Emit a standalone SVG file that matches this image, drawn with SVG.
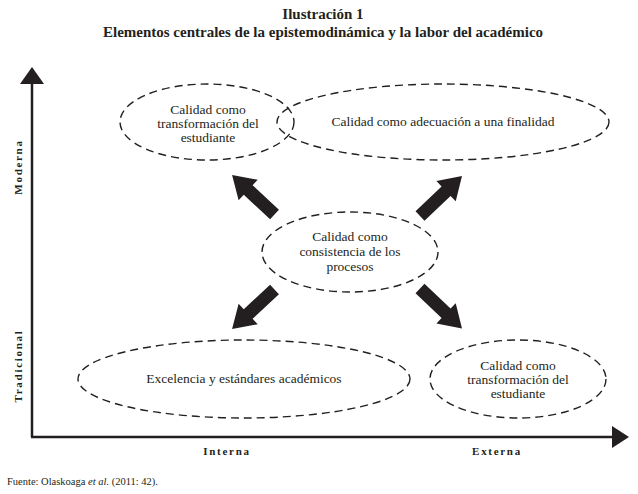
<svg xmlns="http://www.w3.org/2000/svg" xmlns:xlink="http://www.w3.org/1999/xlink" width="638" height="494" viewBox="0 0 638 494">
<style>
.title{font-family:"Liberation Serif",serif;font-weight:bold;font-size:15px;fill:#231f20;text-anchor:middle}
.node{fill:none;stroke:#231f20;stroke-width:1.4;stroke-dasharray:8 5}
.lbl{font-family:"Liberation Serif",serif;font-size:13.5px;fill:#231f20;text-anchor:middle}
.axl{font-family:"Liberation Serif",serif;font-weight:bold;font-size:11px;letter-spacing:1.7px;fill:#231f20;text-anchor:middle}
.axis{stroke:#231f20;stroke-width:2.5;fill:none}
.ah{fill:#231f20}
.src{font-family:"Liberation Serif",serif;font-size:10.5px;fill:#231f20}
</style>
<defs>
<path id="blk" d="M0,-6.5 L36,-6.5 L36,-14 L58,0 L36,14 L36,6.5 L0,6.5 Z" fill="#231f20"/>
</defs>
<rect width="638" height="494" fill="#ffffff"/>
<text class="title" x="323" y="19">Ilustración 1</text>
<text class="title" x="323" y="37">Elementos centrales de la epistemodinámica y la labor del académico</text>

<g id="axes">
<line class="axis" x1="32" y1="437" x2="32" y2="82"/>
<polygon class="ah" points="32,67 20,84 44,84"/>
<line class="axis" x1="31" y1="437" x2="614" y2="437"/>
<polygon class="ah" points="629,437 612,426 612,448"/>
<text class="axl" transform="translate(22,167) rotate(-90)">Moderna</text>
<text class="axl" transform="translate(22,366) rotate(-90)">Tradicional</text>
<text class="axl" x="227" y="455">Interna</text>
<text class="axl" x="497" y="455">Externa</text>
</g>

<g id="connectors">
<use xlink:href="#blk" transform="translate(274.5,214.5) rotate(-137)"/>
<use xlink:href="#blk" transform="translate(420,216) rotate(-43.6)"/>
<use xlink:href="#blk" transform="translate(274.5,289.5) rotate(137)"/>
<use xlink:href="#blk" transform="translate(420,288.5) rotate(43.6)"/>
</g>

<g id="n1">
<ellipse class="node" cx="207" cy="122" rx="87" ry="38"/>
<text class="lbl" x="208" y="114">Calidad como</text>
<text class="lbl" x="208" y="128">transformación del</text>
<text class="lbl" x="208" y="142">estudiante</text>
</g>
<g id="n2">
<ellipse class="node" cx="443" cy="122" rx="166" ry="38"/>
<text class="lbl" x="443" y="126">Calidad como adecuación a una finalidad</text>
</g>
<g id="n3">
<ellipse class="node" cx="350" cy="252" rx="88" ry="40"/>
<text class="lbl" x="350" y="241">Calidad como</text>
<text class="lbl" x="350" y="256">consistencia de los</text>
<text class="lbl" x="350" y="271">procesos</text>
</g>
<g id="n4">
<ellipse class="node" cx="244" cy="379" rx="166" ry="39"/>
<text class="lbl" x="244" y="383">Excelencia y estándares académicos</text>
</g>
<g id="n5">
<ellipse class="node" cx="518" cy="379" rx="88" ry="39"/>
<text class="lbl" x="518" y="370">Calidad como</text>
<text class="lbl" x="518" y="384">transformación del</text>
<text class="lbl" x="518" y="398">estudiante</text>
</g>

<text class="src" x="7" y="485">Fuente: Olaskoaga <tspan font-style="italic">et al.</tspan> (2011: 42).</text>
</svg>
